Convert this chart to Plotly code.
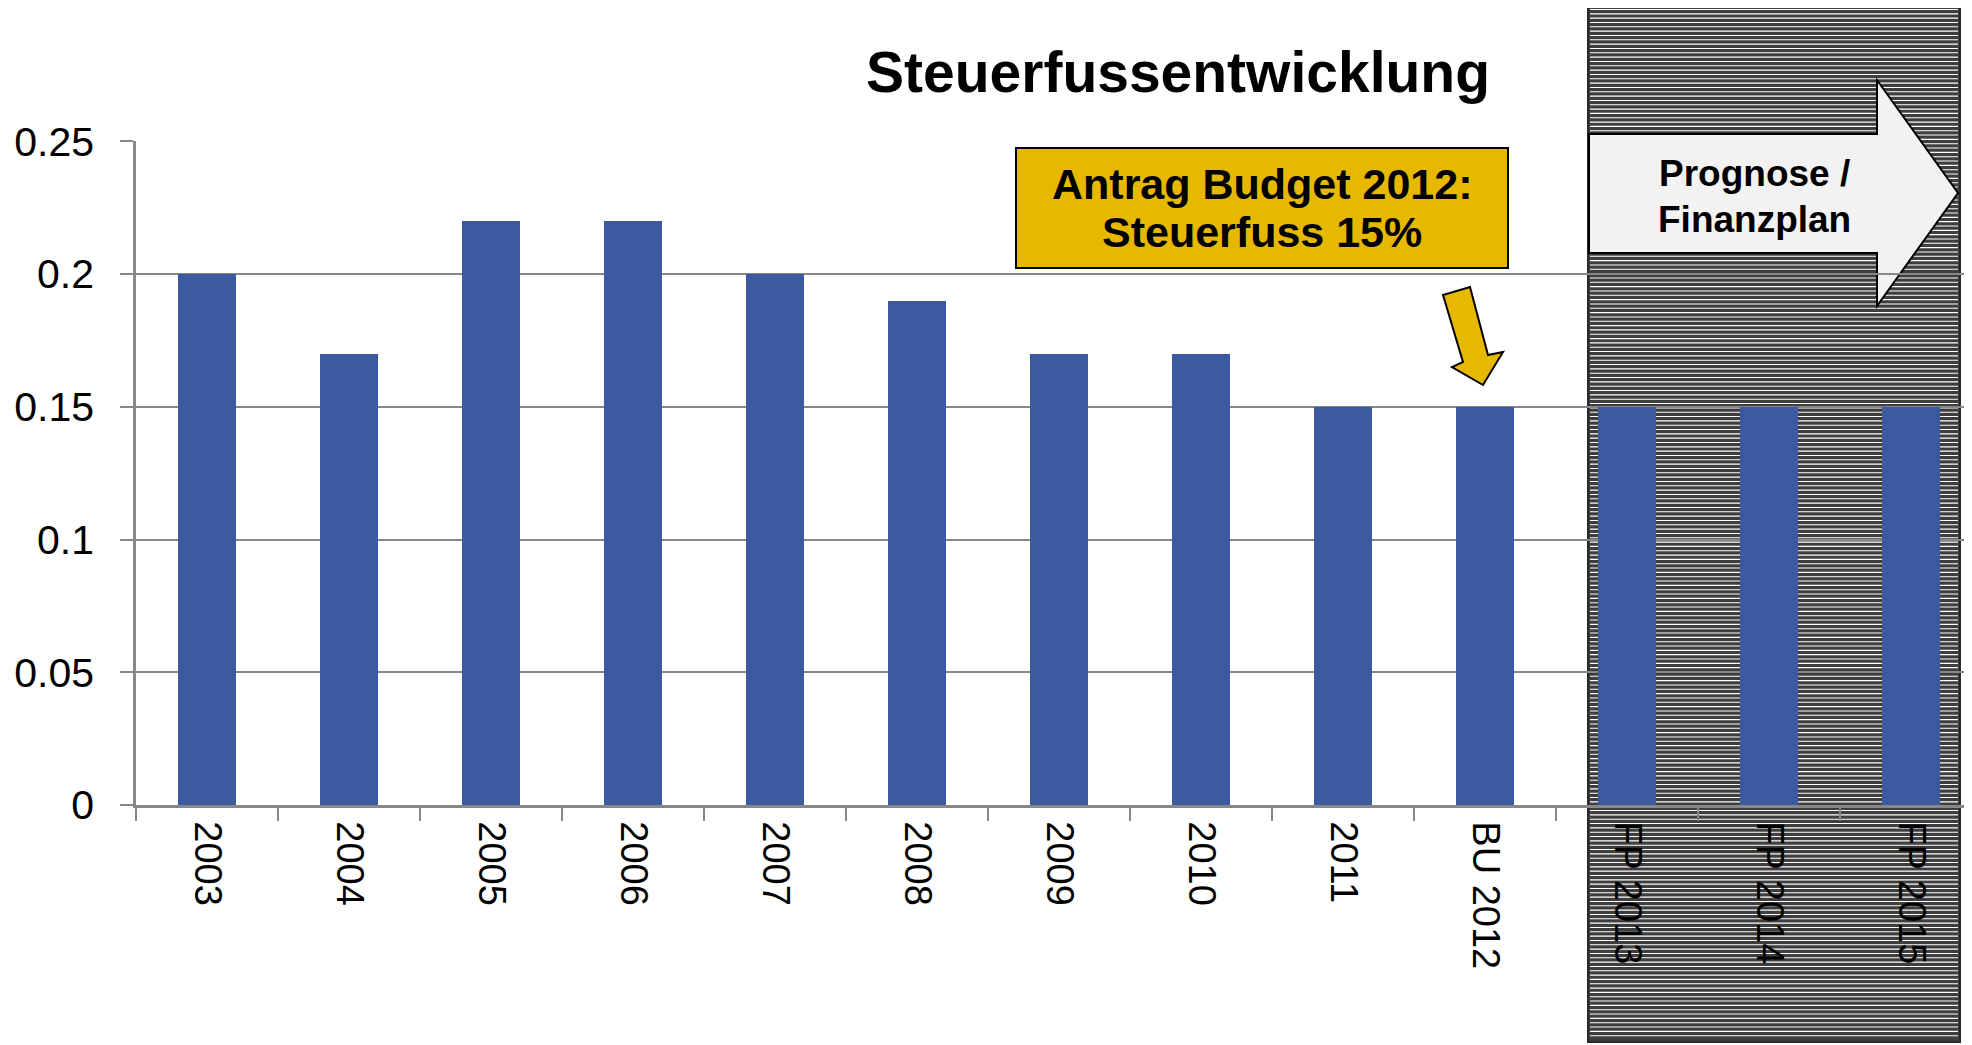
import plotly.graph_objects as go

categories = ["2003", "2004", "2005", "2006", "2007", "2008", "2009", "2010", "2011",
              "BU 2012", "FP 2013", "FP 2014", "FP 2015"]
steuerfuss = [0.20, 0.17, 0.22, 0.22, 0.20, 0.19, 0.17, 0.17, 0.15, 0.15, 0.15, 0.15, 0.15]
y_ticks = [0, 0.05, 0.1, 0.15, 0.2, 0.25]

title_text = "Steuerfussentwicklung"
box_lines = ["Antrag Budget 2012:", "Steuerfuss 15%"]
arrow_lines = ["Prognose /", "Finanzplan"]

W, H = 1972, 1045
OFF = 8  # page body margin: figure sits 8px in from the window corner
ML, MR, MT, MB = 136 - OFF, 0, 141 - OFF, H - (805 - OFF)
PW = W - ML - MR
PH = H - MT - MB
CAT_PX = 142  # one category slot in pixels; the axis runs past the right edge

GRID = "#878787"
BAR = "#3C5AA0"
GOLD = "#E6B800"
FONT = "Liberation Sans, Arial, sans-serif"


# screen pixel -> paper helpers for the decorations
def px(x):
    return (x - OFF - ML) / PW


def py(y):
    return (H - MB - (y - OFF)) / PH


def poly(points):
    return "M " + " L ".join(f"{px(x):.5f},{py(y):.5f}" for x, y in points) + " Z"


fig = go.Figure(go.Bar(
    x=categories, y=steuerfuss,
    marker=dict(color=BAR, line=dict(width=0)),
    width=0.41,
))

shapes = []
# hatched forecast panel
hx0, hx1, hy0, hy1 = 1588, 1960, 6, 1042
shapes.append(dict(type="rect", xref="paper", yref="paper", layer="below",
                   x0=px(hx0), x1=px(hx1), y0=py(hy1), y1=py(hy0),
                   fillcolor="#3E3E3E", line=dict(color="#2a2a2a", width=2)))
segs = []
yy = hy0 + 3.5
while yy < hy1 - 2:
    segs.append(f"M {px(hx0 + 2):.5f},{py(yy):.5f} L {px(hx1 - 2):.5f},{py(yy):.5f}")
    yy += 4.33
shapes.append(dict(type="path", xref="paper", yref="paper", layer="below",
                   path=" ".join(segs), line=dict(color="white", width=1.1)))

# big white arrow
shapes.append(dict(type="path", xref="paper", yref="paper", layer="below",
                   path=poly([(1589, 134), (1877, 134), (1877, 80), (1958, 193),
                              (1877, 306), (1877, 253), (1589, 253)]),
                   fillcolor="#F2F2F2", line=dict(color="black", width=2)))

# gold box and small gold arrow
shapes.append(dict(type="rect", xref="paper", yref="paper",
                   x0=px(1016), x1=px(1508), y0=py(268), y1=py(148),
                   fillcolor=GOLD, line=dict(color="black", width=2)))
shapes.append(dict(type="path", xref="paper", yref="paper",
                   path=poly([(1443, 295), (1470, 287), (1488, 355), (1503, 352),
                              (1483, 385), (1452, 367), (1463, 362)]),
                   fillcolor=GOLD, line=dict(color="black", width=2)))

annotations = [
    dict(text=f"<b>{title_text}</b>", x=px(1178), y=py(72), xref="paper", yref="paper",
         xanchor="center", yanchor="middle", showarrow=False,
         font=dict(size=57, color="black", family=FONT)),
]
for txt, cy in zip(box_lines, [184, 232]):
    annotations.append(dict(text=f"<b>{txt}</b>", x=px(1262), y=py(cy), xref="paper", yref="paper",
                            xanchor="center", yanchor="middle", showarrow=False,
                            font=dict(size=43, color="black", family=FONT)))
for txt, cy in zip(arrow_lines, [174, 219]):
    annotations.append(dict(text=f"<b>{txt}</b>", x=px(1754), y=py(cy), xref="paper", yref="paper",
                            xanchor="center", yanchor="middle", showarrow=False,
                            font=dict(size=37, color="black", family=FONT)))

fig.update_layout(
    width=W, height=H,
    margin=dict(l=ML, r=MR, t=MT, b=MB, pad=0),
    paper_bgcolor="white", plot_bgcolor="white",
    showlegend=False,
    bargap=0,
    shapes=shapes,
    annotations=annotations,
    font=dict(family=FONT, color="black"),
)
fig.update_xaxes(
    type="category",
    range=[-0.5, -0.5 + PW / CAT_PX],
    showline=True, linecolor=GRID, linewidth=2.5,
    ticks="outside", tickson="boundaries", ticklen=13, tickwidth=2, tickcolor=GRID,
    tickangle=90, tickfont=dict(size=38, color="black", family=FONT),
    ticklabelstandoff=6,
    showgrid=False,
)
fig.update_yaxes(
    range=[0, 0.2501],
    tickvals=y_ticks,
    showline=True, linecolor=GRID, linewidth=2.5,
    ticks="outside", ticklen=13, tickwidth=2, tickcolor=GRID,
    showgrid=True, gridcolor=GRID, gridwidth=2,
    zeroline=False,
    tickfont=dict(size=41, color="black", family=FONT),
    ticklabelstandoff=18,
)

fig.write_html("out.html")
